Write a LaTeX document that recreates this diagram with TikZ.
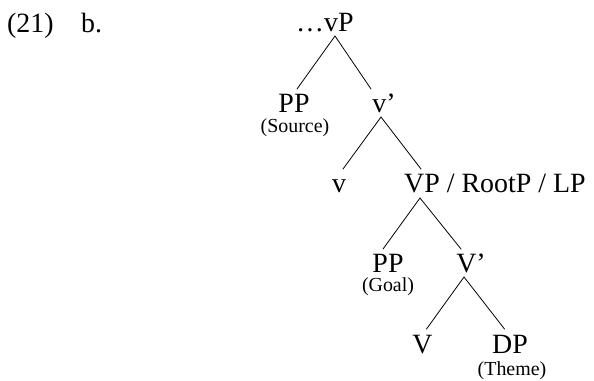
\documentclass[tikz,border=0pt]{standalone}
\usepackage{fontspec}
\setmainfont{Liberation Serif}
\begin{document}
\begin{tikzpicture}[x=1bp,y=-1bp,
  lab/.style={anchor=base,inner sep=0pt,font=\fontsize{28}{30}\selectfont},
  role/.style={anchor=base,inner sep=0pt,font=\fontsize{20}{22}\selectfont},
  branch/.style={line width=0.8pt,line cap=round}]
\useasboundingbox (0,0) rectangle (594,380);
% example number
\node[lab,anchor=base west] (num) at (7,32) {(21)};
\node[lab,anchor=base west] (sub) at (81,32) {b.};
% row 1
\node[lab,anchor=base west] (vP) at (296,31) {…vP};
% row 2
\node[lab] (PP1) at (294,112) {PP};
\node[role] (src) at (295,132) {(Source)};
\node[lab] (vbar) at (384,112) {v’};
% row 3
\node[lab] (v) at (339,192) {v};
\node[lab,anchor=base west] (VP) at (404,192) {VP / RootP / LP};
% row 4
\node[lab] (PP2) at (388,272) {PP};
\node[role] (goal) at (388,291) {(Goal)};
\node[lab] (Vbar) at (471,272) {V’};
% row 5
\node[lab] (V) at (422.5,353) {V};
\node[lab] (DP) at (510,353) {DP};
\node[role] (theme) at (512,375) {(Theme)};
% branch points
\coordinate (vP-d) at (335,36);
\coordinate (PP1-u) at (297,89);
\coordinate (vbar-u) at (371,89);
\coordinate (vbar-d) at (381,117);
\coordinate (v-u) at (343,169);
\coordinate (VP-u) at (421,169);
\coordinate (VP-d) at (420,198);
\coordinate (PP2-u) at (383,249);
\coordinate (Vbar-u) at (461,249);
\coordinate (Vbar-d) at (464,277);
\coordinate (V-u) at (426.5,329);
\coordinate (DP-u) at (504.5,329);
% branches
\draw[branch] (PP1-u) -- (vP-d) -- (vbar-u);
\draw[branch] (v-u) -- (vbar-d) -- (VP-u);
\draw[branch] (PP2-u) -- (VP-d) -- (Vbar-u);
\draw[branch] (V-u) -- (Vbar-d) -- (DP-u);
\end{tikzpicture}
\end{document}
